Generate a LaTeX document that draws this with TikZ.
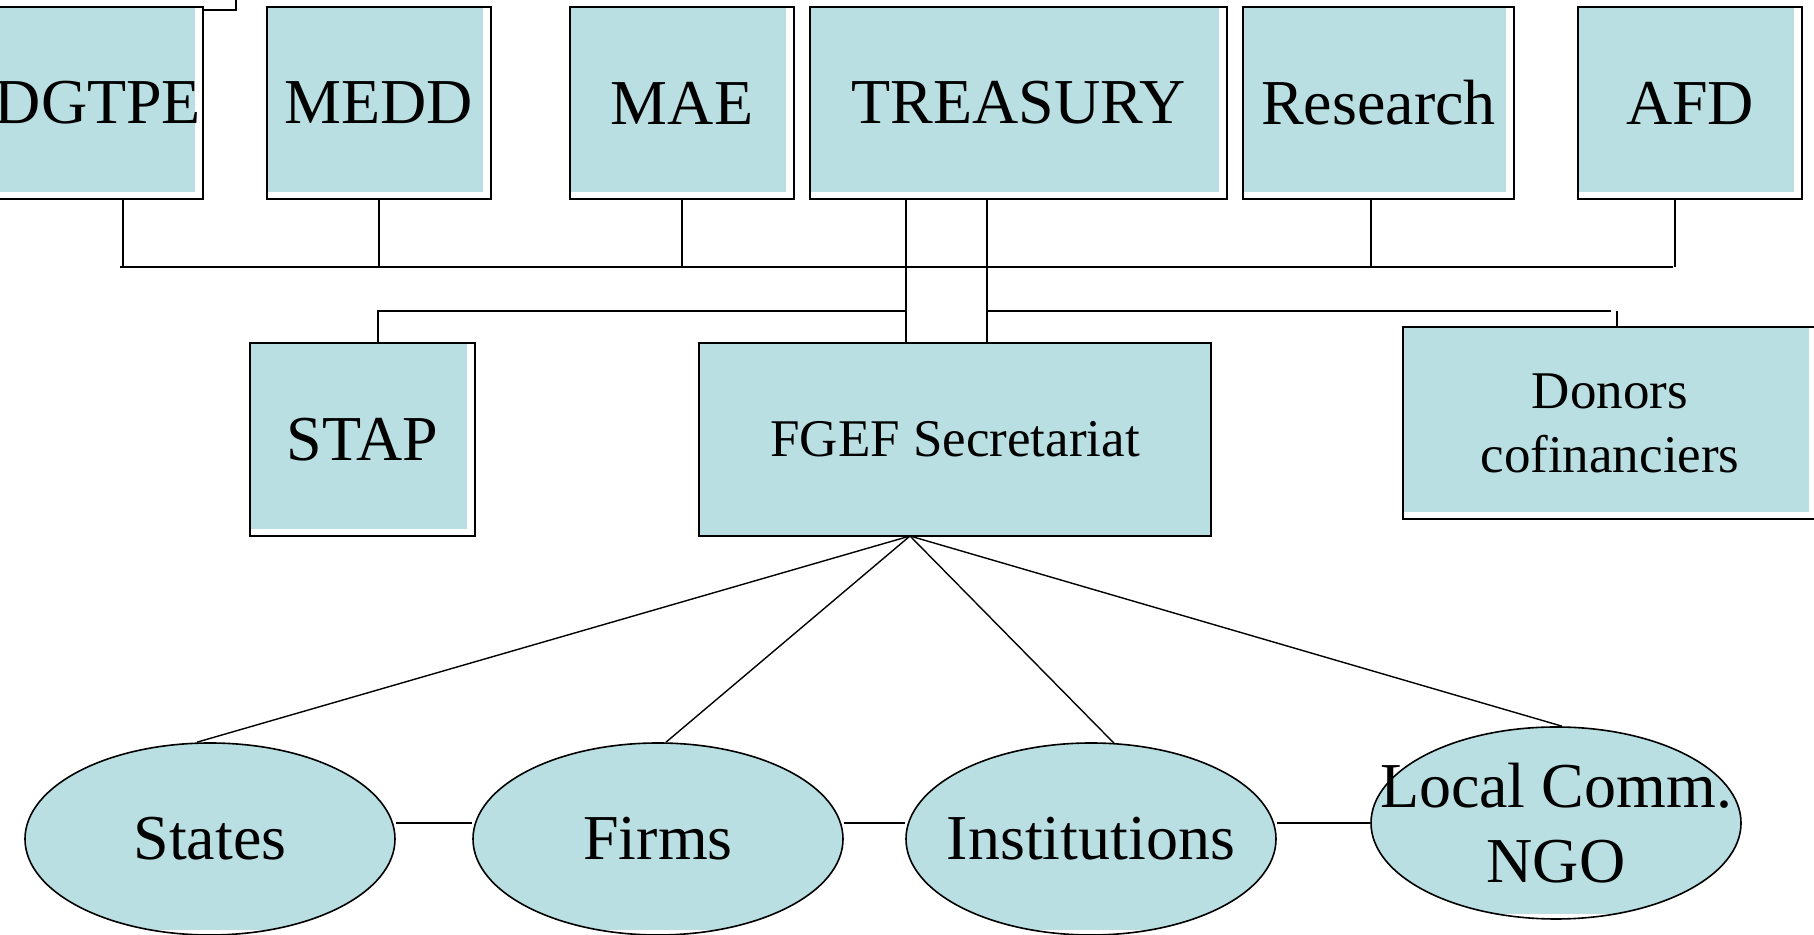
\documentclass[tikz,border=0pt]{standalone}
\usepackage{fontspec}
\setmainfont{Liberation Serif}
\usetikzlibrary{shapes.geometric}

\definecolor{boxfill}{RGB}{185,223,226}

\tikzstyle{unit}=[rectangle, draw, line width=0.8pt, fill=white,
                  inner sep=0pt, minimum height=96pt,
                  font=\fontsize{32}{38}\selectfont,
                  path picture={\fill[boxfill] (path picture bounding box.north west)
                    rectangle ([xshift=-4pt, yshift=3.5pt]path picture bounding box.south east);}]
\tikzstyle{office}=[rectangle, draw, line width=0.8pt, fill=boxfill,
                    inner sep=0pt, minimum height=96.5pt,
                    font=\fontsize{26.5}{32}\selectfont]
\tikzstyle{actor}=[ellipse, draw, line width=0.8pt, fill=white,
                   inner xsep=-40pt, inner ysep=-12pt,
                   minimum width=185pt, minimum height=96pt,
                   font=\fontsize{32}{37.5}\selectfont,
                   path picture={\fill[boxfill] (path picture bounding box.north west)
                     rectangle ([yshift=2.5pt]path picture bounding box.south east);}]
\tikzstyle{link}=[-, line width=0.7pt]

\begin{document}
\begin{tikzpicture}[x=50pt, y=50pt]
  \useasboundingbox (0, 0) rectangle (18.14, 9.35);
  \clip (0, 0) rectangle (18.14, 9.35);

  %%%%%%%%%%%%%%%%%%%%%%%%%%%%%%
  %%%%%%%%%%%%%%%%%%%%%%%%%%%%%%
  % organisation

  %%%%%%%%%%%%%%%%%%%%%%%%%%%%%%
  % nodes
  % ministries
  \draw [line width=1.2pt] (-0.3, 9.7) rectangle (2.36, 9.25);
  \node (dgtpe) at (0.98, 8.32) [unit, minimum width=105pt] {DGTPE};

  \node (medd) at (3.79, 8.32) [unit, minimum width=112pt] {MEDD};

  \node (mae) at (6.82, 8.32) [unit, minimum width=112pt] {MAE};

  \node (treasury) at (10.185, 8.32) [unit, minimum width=208.5pt] {TREASURY};

  \node (research) at (13.785, 8.32) [unit, minimum width=135.5pt] {Research};

  \node (afd) at (16.90, 8.32) [unit, minimum width=112pt] {AFD};

  % secretariat
  \node (stap) at (3.625, 4.955) [unit, minimum width=112.5pt, minimum height=96.5pt] {STAP};

  \node (fgef) at (9.55, 4.955) [office, minimum width=256pt] {FGEF Secretariat};

  \node (donors) at (16.10, 5.12) [unit, minimum width=207pt, align=center,
                                   font=\fontsize{26.5}{32}\selectfont] {Donors\\cofinanciers};

  % beneficiaries
  \node (states) at (2.10, 0.96) [actor] {States};

  \node (firms) at (6.58, 0.96) [actor] {Firms};

  \node (inst) at (10.91, 0.96) [actor] {Institutions};

  \node (local) at (15.56, 1.12) [actor, align=center] {Local Comm.\\NGO};

  %%%%%%%%%%%%%%%%%%%%%%%%%%%%%%
  % links
  \coordinate (bus) at (0, 6.68);
  \coordinate (split) at (0, 6.24);
  \coordinate (hub) at (9.10, 3.99);

  % steering committee
  \draw [link] ([xshift=12.5pt]dgtpe.south) -- ([xshift=12.5pt]dgtpe.south |- bus);
  \draw [link] ([xshift=11pt]dgtpe.south |- bus) -- ([xshift=-8.5pt]afd.south |- bus);
  \draw [link] (medd.south) -- (medd.south |- bus);
  \draw [link] (mae.south) -- (mae.south |- bus);
  \draw [link] ([xshift=-3.75pt]research.south) -- ([xshift=-3.75pt]research.south |- bus);
  \draw [link] ([xshift=-7.5pt]afd.south) -- ([xshift=-7.5pt]afd.south |- bus);

  % treasury
  \draw [link] ([xshift=-24.5pt]fgef.north) -- ([xshift=-24.5pt]fgef.north |- treasury.south);
  \draw [link] ([xshift=16pt]fgef.north) -- ([xshift=16pt]fgef.north |- treasury.south);
  \draw [link] ([xshift=-24.5pt]fgef.north |- split) -| ([xshift=7.75pt]stap.north);
  \draw [link] ([xshift=16pt]fgef.north |- split) -- ([xshift=0.5pt]donors.north |- split);
  \draw [link] ([xshift=3.5pt]donors.north) -- ++(0, 0.15);

  % beneficiaries
  \draw [link] (hub) -- ([xshift=-6.5pt]states.north);
  \draw [link] (hub) -- ([xshift=4pt]firms.north);
  \draw [link] (hub) -- ([xshift=11.5pt, yshift=-0.5pt]inst.north);
  \draw [link] (hub) -- ([xshift=3pt]local.north);

  \draw [link] (states.east |- local) -- (firms.west |- local);
  \draw [link] (firms.east |- local) -- (inst.west |- local);
  \draw [link] (inst.east |- local) -- (local.west);

\end{tikzpicture}
\end{document}
